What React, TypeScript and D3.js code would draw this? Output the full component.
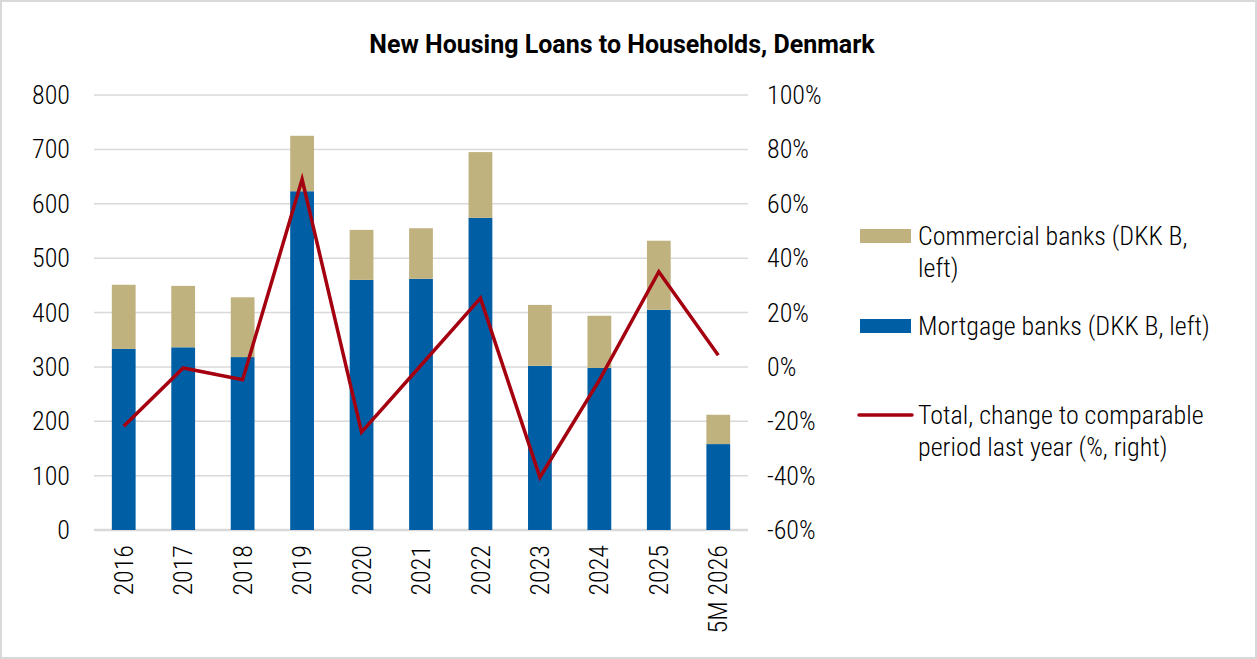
import React, { useEffect, useRef } from "react";
import * as d3 from "d3";

// Yearly new housing loans (DKK B) and total change vs. comparable period (%)
const categories = ["2016", "2017", "2018", "2019", "2020", "2021", "2022", "2023", "2024", "2025", "5M 2026"];
const mortgageBanks = [333, 336, 318, 623, 460, 462, 574, 302, 298, 405, 158];
const commercialBanks = [118, 113, 110, 102, 92, 93, 121, 112, 96, 127, 54];
const totalChange = [-21.8, -0.4, -4.7, 69, -24, 0.6, 25.3, -40.6, -4.9, 35, 4.3];

const leftTicks = [0, 100, 200, 300, 400, 500, 600, 700, 800];
const rightTicks = [-60, -40, -20, 0, 20, 40, 60, 80, 100];

const W = 1257;
const H = 659;
const FONT = "'Roboto Condensed', Roboto, 'Liberation Sans Narrow', sans-serif";
const FS = 26;

const BLUE = "#005ea5";
const TAN = "#c0b27f";
const RED = "#a50010";
const GRID = "#d9d9d9";

export default function App() {
    const ref = useRef<SVGSVGElement>(null);

    useEffect(() => {
        const svg = d3.select(ref.current);
        svg.selectAll("*").remove();

        const plot = { left: 94, right: 748, top: 95, bottom: 530 };

        const x = d3.scaleBand()
            .domain(categories)
            .range([plot.left, plot.right])
            .paddingInner(0.6)
            .paddingOuter(0.3);

        const yL = d3.scaleLinear().domain([0, 800]).range([plot.bottom, plot.top]);
        const yR = d3.scaleLinear().domain([-60, 100]).range([plot.bottom, plot.top]);

        // outer frame
        svg.append("rect")
            .attr("x", 1).attr("y", 1)
            .attr("width", W - 2).attr("height", H - 2)
            .attr("fill", "#fff")
            .attr("stroke", GRID)
            .attr("stroke-width", 2);

        // title
        svg.append("text")
            .attr("x", 622)
            .attr("y", 53)
            .attr("text-anchor", "middle")
            .attr("font-family", "Roboto, sans-serif")
            .attr("font-weight", "bold")
            .attr("font-size", 25)
            .attr("fill", "#000")
            .text("New Housing Loans to Households, Denmark");

        // gridlines
        svg.append("g")
            .selectAll("line")
            .data(leftTicks)
            .join("line")
            .attr("x1", plot.left)
            .attr("x2", plot.right)
            .attr("y1", d => yL(d))
            .attr("y2", d => yL(d))
            .attr("stroke", GRID)
            .attr("stroke-width", d => (d === 0 ? 2.5 : 1.5));

        // left tick labels
        svg.append("g")
            .selectAll("text")
            .data(leftTicks)
            .join("text")
            .attr("x", 70)
            .attr("y", d => yL(d))
            .attr("dy", "0.35em")
            .attr("text-anchor", "end")
            .attr("font-family", FONT)
            .attr("font-weight", 300)
            .attr("font-size", FS)
            .attr("fill", "#000")
            .text(d => d);

        // right tick labels
        svg.append("g")
            .selectAll("text")
            .data(rightTicks)
            .join("text")
            .attr("x", 767)
            .attr("y", d => yR(d))
            .attr("dy", "0.35em")
            .attr("font-family", FONT)
            .attr("font-weight", 300)
            .attr("font-size", FS)
            .attr("fill", "#000")
            .text(d => `${d}%`);

        // stacked bars
        const rows = categories.map((c, i) => ({ c, m: mortgageBanks[i], k: commercialBanks[i] }));
        const bars = svg.append("g");
        bars.selectAll("rect.mort")
            .data(rows)
            .join("rect")
            .attr("class", "mort")
            .attr("x", d => x(d.c)!)
            .attr("width", x.bandwidth())
            .attr("y", d => yL(d.m))
            .attr("height", d => yL(0) - yL(d.m))
            .attr("fill", BLUE);
        bars.selectAll("rect.comm")
            .data(rows)
            .join("rect")
            .attr("class", "comm")
            .attr("x", d => x(d.c)!)
            .attr("width", x.bandwidth())
            .attr("y", d => yL(d.m + d.k))
            .attr("height", d => yL(d.m) - yL(d.m + d.k))
            .attr("fill", TAN);

        // change line on the right axis
        const line = d3.line<number>()
            .x((_, i) => x(categories[i])! + x.bandwidth() / 2)
            .y(d => yR(d));
        svg.append("path")
            .datum(totalChange)
            .attr("d", line)
            .attr("fill", "none")
            .attr("stroke", RED)
            .attr("stroke-width", 3.5)
            .attr("stroke-linejoin", "miter");

        // category labels, rotated
        svg.append("g")
            .selectAll("text")
            .data(categories)
            .join("text")
            .attr("transform", d => `translate(${x(d)! + x.bandwidth() / 2},545) rotate(-90)`)
            .attr("dy", "0.35em")
            .attr("text-anchor", "end")
            .attr("font-family", FONT)
            .attr("font-weight", 300)
            .attr("font-size", FS)
            .attr("fill", "#000")
            .text(d => d);

        // legend
        const legend = svg.append("g")
            .attr("font-family", FONT)
            .attr("font-weight", 300)
            .attr("font-size", FS)
            .attr("fill", "#000");

        const items = [
            { lines: ["Commercial banks (DKK B,", "left)"], y: 236, kind: "rect", color: TAN },
            { lines: ["Mortgage banks (DKK B, left)"], y: 326, kind: "rect", color: BLUE },
            { lines: ["Total, change to comparable", "period last year (%, right)"], y: 415, kind: "line", color: RED },
        ];

        items.forEach(it => {
            if (it.kind === "rect") {
                legend.append("rect")
                    .attr("x", 860).attr("y", it.y - 7)
                    .attr("width", 51).attr("height", 14)
                    .attr("fill", it.color);
            } else {
                legend.append("line")
                    .attr("x1", 859).attr("x2", 912)
                    .attr("y1", it.y).attr("y2", it.y)
                    .attr("stroke", it.color)
                    .attr("stroke-width", 3.5)
                    .attr("stroke-linecap", "round");
            }
            it.lines.forEach((t, j) => {
                legend.append("text")
                    .attr("x", 918)
                    .attr("y", it.y + j * 32)
                    .attr("dy", "0.35em")
                    .text(t);
            });
        });
    }, []);

    return (
        <svg
            ref={ref}
            width={W}
            height={H}
            style={{ position: "absolute", left: 0, top: 0, background: "#fff" }}
        />
    );
}
